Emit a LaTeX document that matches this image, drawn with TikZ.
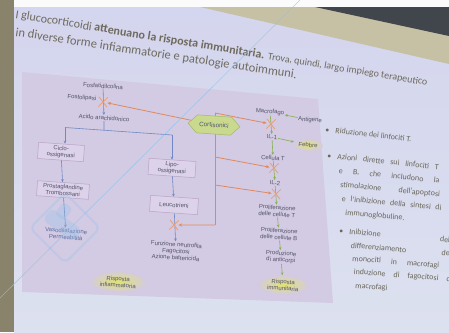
\documentclass[tikz,border=0pt]{standalone}
\usepackage{fontspec}
\setmainfont{Carlito}
\newfontfamily\arial{Liberation Sans}
\usetikzlibrary{shapes.symbols,shapes.geometric,shapes.misc,arrows.meta,calc}

\definecolor{wall}{HTML}{8A836B}
\definecolor{slidetop}{HTML}{D4D5EE}
\definecolor{slidebot}{HTML}{DCE1EF}
\definecolor{panel}{HTML}{D3CAE3}
\definecolor{frame}{HTML}{C6C1A5}
\definecolor{housing}{HTML}{41454C}
\definecolor{ttext}{HTML}{6E6A5E}
\definecolor{btext}{HTML}{6A675B}
\definecolor{dtext}{HTML}{53546A}
\definecolor{vasotext}{HTML}{5B68A0}
\definecolor{boxfill}{HTML}{DCD2EA}
\definecolor{boxline}{HTML}{B9A3C6}
\definecolor{barrow}{HTML}{7088C4}
\definecolor{garrow}{HTML}{86B24E}
\definecolor{oarrow}{HTML}{E08A5C}
\definecolor{xcol}{HTML}{E6A07A}
\definecolor{cortfill}{HTML}{C9DA8F}
\definecolor{cortline}{HTML}{A3B967}
\definecolor{glowc}{HTML}{E2E370}
\definecolor{wblue}{HTML}{8EC3EA}

\begin{document}
\begin{tikzpicture}[x=1pt,y=-1pt,
  lbl/.style={font=\arial\fontsize{6}{6.6}\selectfont, text=dtext, align=center, inner sep=0.6pt, rotate=-4},
  dbox/.style={lbl, draw=boxline, fill=boxfill, line width=0.5pt, inner sep=2pt, minimum height=15pt},
  xmk/.style={cross out, draw=xcol, line width=0.8pt, minimum width=8pt, minimum height=9pt, inner sep=0pt, rotate=-4},
  barr/.style={draw=barrow, line width=0.6pt, -{Stealth[length=3pt,width=2.6pt]}},
  bline/.style={draw=barrow, line width=0.6pt},
  garr/.style={draw=garrow, line width=0.6pt, -{Stealth[length=3pt,width=2.6pt]}},
  oarr/.style={draw=oarrow, line width=0.8pt, -{Stealth[length=3.6pt,width=3pt]}},
  oline/.style={draw=oarrow, line width=0.8pt},
  glow/.style={lbl, ellipse, inner color=glowc, outer color=panel, minimum width=58pt, minimum height=21pt},
  ttl/.style={text=ttext, inner sep=0pt, anchor=base west},
  bul/.style={font=\fontsize{8}{9}\selectfont, text=btext, inner sep=0pt, anchor=base west},
  wmark/.style={draw=wblue, line width=0.6pt, opacity=0.7},
]
\useasboundingbox (0,0) rectangle (449,332);
\clip (0,0) rectangle (449,332);

% room, screen and frame
\fill[white] (0,0) rectangle (449,332);
\fill[wall] (0,0) rectangle (14,332);
\shade[top color=slidetop, bottom color=slidebot] (14,7) -- (449,7) -- (449,332) -- (14,332) -- cycle;
\fill[frame] (200,7) -- (449,7) -- (449,64) -- cycle;
\fill[housing] (315,7) -- (449,7) -- (449,36) -- cycle;
\fill[white!97!gray] (14,0) rectangle (449,7);

% diagram panel
\fill[panel] (22,72) -- (318,99) -- (333,303) -- (22,292) -- cycle;

% heading
\node[ttl, rotate=-9.3] (t1) at (15,18) {\fontsize{12}{14}\selectfont I glucocorticoidi \textbf{attenuano la risposta immunitaria.} {\fontsize{10}{12}\selectfont Trova, quindi, largo impiego terapeutico}};
\node[ttl, rotate=-8.6] (t2) at (15,36) {\fontsize{12.5}{14}\selectfont in diverse forme infiammatorie e patologie autoimmuni.};

% arachidonic acid pathway
\node[lbl] (fosfa) at (103,86) {Fosfatidilcolina};
\node[lbl, anchor=east] (lipasi) at (97,99) {Fosfolipasi};
\node[lbl] (acido) at (104,118) {Acido arachidonico};
\coordinate (bL) at (65,127.5);
\coordinate (bM) at (104,130.2);
\coordinate (bR) at (172,135);
\node[dbox, minimum width=46pt] (ciclo) at (61,152) {Ciclo-\\ossigenasi};
\node[dbox, minimum width=52pt] (prosta) at (63,190) {Prostaglandine\\Trombossani};
\node[lbl, text=vasotext] (vaso) at (66,234) {Vasodilatazione\\Permeabilità};
\node[dbox, minimum width=47pt] (lipo) at (172,168) {Lipo-\\ossigenasi};
\node[dbox, minimum width=48pt, minimum height=16pt] (leuco) at (174,205) {Leucotrieni};
\node[lbl] (funz) at (176,251) {Funzione neutrofila\\Fagocitosi\\Azione battericida};
\node[glow] (rinf) at (118,282) {Risposta\\infiammatoria};

\draw[barr] (fosfa) -- (acido);
\draw[bline] (acido) -- (bM);
\draw[bline] (bL) -- (bR);
\draw[barr] (bL) -- (bL |- ciclo.north);
\draw[barr] (bR) -- (bR |- lipo.north);
\draw[barr] (ciclo) -- (prosta);
\draw[barr] (prosta) -- (vaso);
\draw[barr] (lipo) -- (leuco);
\draw[barr] (leuco) -- (funz);

% immune pathway
\node[lbl] (macro) at (270,112) {Macrofago};
\node[lbl] (antig) at (310,120) {Antigene};
\node[lbl] (il1) at (272,137) {IL-1};
\node[glow, minimum width=30pt, minimum height=12pt] (febbre) at (308,145) {Febbre};
\node[lbl] (cellT) at (273,158) {Cellula T};
\node[lbl] (il2) at (275,183) {IL-2};
\node[lbl] (prolT) at (277,211) {Proliferazione\\delle cellule T};
\node[lbl] (prolB) at (279,234) {Proliferazione\\delle cellule B};
\node[lbl] (prod) at (281,257) {Produzione\\di anticorpi};
\node[glow, minimum width=52pt, minimum height=19pt] (rimm) at (283,285) {Risposta\\immunitaria};

\draw[garr] (antig) -- (macro);
\draw[garr] (macro) -- (il1);
\draw[garr] (il1) -- (febbre);
\draw[garr] (il1) -- (cellT);
\draw[garr] (cellT) -- (il2);
\draw[garr] (il2) -- (prolT);
\draw[garr] (prolT) -- (prolB);
\draw[garr] (prolB) -- (prod);
\draw[garr] (prod) -- (rimm);

% blocked steps
\node[xmk] (x1) at (103,102) {};
\node[xmk] (x2) at (174,225) {};
\node[xmk] (x3) at (271,124) {};
\node[xmk] (x4) at (274,168) {};
\node[xmk] (x5) at (276,194) {};

% corticosteroid inhibition lines
\coordinate (oT) at (215,113);
\coordinate (o1) at (215,157);
\coordinate (o2) at (215,185);
\coordinate (oB) at (215,225);
\draw[oline] (oT) -- (oB);
\draw[oarr] (oT) -- (x3);
\draw[oarr] (o1) -- (x4);
\draw[oarr] (o2) -- (x5);
\draw[oarr] (oB) -- (x2);
\node[lbl, signal, signal to=east and west, draw=cortline, fill=cortfill, line width=0.5pt,
      minimum width=52pt, minimum height=18pt, font=\arial\fontsize{6.3}{7}\selectfont] (corti) at (214,125) {Cortisonici};
\draw[oarr] (corti) -- (x1);

% bullet list
\node[bul, rotate=-6.5] (b1d) at (325,132) {•};
\node[bul, rotate=-6.5] (b1) at (335,133) {Riduzione dei linfociti T.};
\node[bul, rotate=-6] (b2d) at (327,158) {•};
\node[bul, rotate=-6] (b2a) at (337,159) {\makebox[102pt][s]{Azioni dirette sui linfociti T}};
\node[bul, rotate=-5.8] (b2b) at (338.5,173) {\makebox[101pt][s]{e B, che includono la}};
\node[bul, rotate=-5.6] (b2c) at (340,187) {\makebox[100pt][s]{stimolazione dell'apoptosi}};
\node[bul, rotate=-5.4] (b2e) at (341.5,201) {\makebox[100pt][s]{e l'inibizione della sintesi di}};
\node[bul, rotate=-5.2] (b2f) at (345,215) {immunoglobuline.};
\node[bul, rotate=-5] (b3d) at (339,233) {•};
\node[bul, rotate=-5] (b3a) at (349,234) {\makebox[101pt][s]{Inibizione del}};
\node[bul, rotate=-4.8] (b3b) at (350.5,248) {\makebox[101pt][s]{differenziamento dei}};
\node[bul, rotate=-4.6] (b3c) at (352,261) {\makebox[101pt][s]{monociti in macrofagi e}};
\node[bul, rotate=-4.4] (b3e) at (353.5,274) {\makebox[101pt][s]{induzione di fagocitosi da}};
\node[bul, rotate=-4.2] (b3f) at (355,288) {macrofagi};

% watermark overlay
\draw[wmark] (300,0) -- (0,298);
\draw[draw=wblue, line width=2pt, opacity=0.3, rounded corners=6pt] (65,193) -- (100,228) -- (65,263) -- (30,228) -- cycle;
\fill[wblue, opacity=0.3, rounded corners=5pt, rotate around={-35:(62,224)}] (44,217) rectangle (82,232);
\fill[wblue, opacity=0.3, rounded corners=4pt, rotate around={-35:(62,224)}] (50,205) rectangle (62,220);
\end{tikzpicture}
\end{document}
